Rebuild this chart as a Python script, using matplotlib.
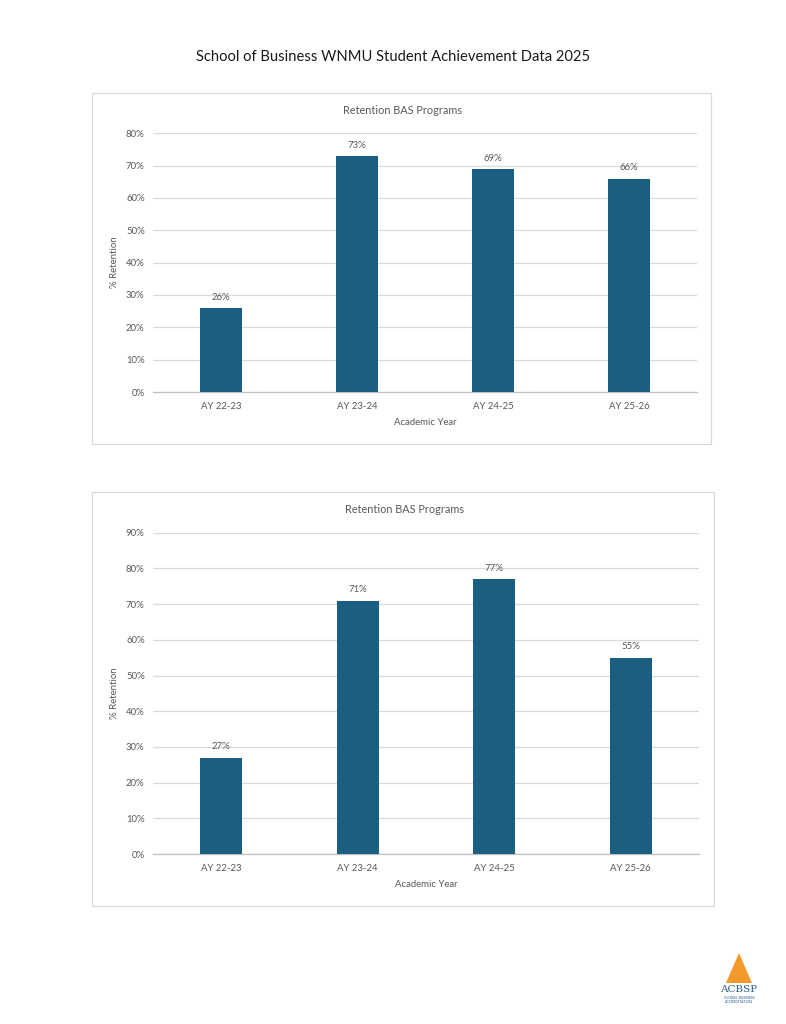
import matplotlib
matplotlib.use("Agg")
import matplotlib.pyplot as plt
from matplotlib.patches import Rectangle, Polygon
from matplotlib.ticker import PercentFormatter

plt.rcParams['font.family'] = ['Lato', 'DejaVu Sans']

categories = ["AY 22-23", "AY 23-24", "AY 24-25", "AY 25-26"]
retention_1 = [0.26, 0.73, 0.69, 0.66]
retention_2 = [0.27, 0.71, 0.77, 0.55]
ylim_1 = 0.8
ylim_2 = 0.9
chart_title = "Retention BAS Programs"
page_title = "School of Business WNMU Student Achievement Data 2025"

W, H = 786, 1024
fig = plt.figure(figsize=(W / 100, H / 100), dpi=100)

BAR = "#1a5f80"
GRID = "#d9d9d9"
TXT = "#595959"
FS = 6.9


def fx(px):
    return px / W


def fy(py):
    return 1 - py / H


fig.text(fx(393), fy(57), page_title, ha="center", va="center", fontsize=10.6, color="#1a1a1a")


def chart(frame, plot, values, ymax):
    x0, y0, x1, y1 = frame
    fig.patches.append(Rectangle((fx(x0), fy(y1)), fx(x1 - x0), (y1 - y0) / H,
                                 transform=fig.transFigure, fill=False,
                                 edgecolor=GRID, linewidth=0.9))
    px0, ptop, px1, pbot = plot
    ax = fig.add_axes([fx(px0), fy(pbot), fx(px1 - px0), (pbot - ptop) / H])
    xs = range(len(categories))
    bars = ax.bar(xs, values, width=0.31, color=BAR, zorder=3)
    ax.set_xlim(-0.5, len(categories) - 0.5)
    ax.set_ylim(0, ymax)
    ax.set_yticks([i / 10 for i in range(int(round(ymax * 10)) + 1)])
    ax.yaxis.set_major_formatter(PercentFormatter(1.0, decimals=0))
    ax.set_xticks(list(xs))
    ax.set_xticklabels(categories)
    ax.grid(axis="y", color=GRID, linewidth=0.9, zorder=0)
    for s in ["top", "right", "left"]:
        ax.spines[s].set_visible(False)
    ax.spines["bottom"].set_color("#bfbfbf")
    ax.spines["bottom"].set_linewidth(0.9)
    ax.tick_params(axis="both", length=0, labelsize=FS, labelcolor=TXT)
    ax.tick_params(axis="y", pad=6)
    ax.tick_params(axis="x", pad=7.5)
    for b, v in zip(bars, values):
        ax.annotate(f"{round(v * 100)}%", (b.get_x() + b.get_width() / 2, v),
                    xytext=(0, 4.5), textcoords="offset points", ha="center",
                    va="bottom", fontsize=FS, color=TXT)
    ax.set_xlabel("Academic Year", fontsize=FS, color=TXT, labelpad=5)
    ax.set_ylabel("% Retention", fontsize=FS, color=TXT, labelpad=5)
    fig.text(fx((x0 + x1) / 2 + 1), fy(y0 + 17.5), chart_title, ha="center", va="center",
             fontsize=7.8, color=TXT)
    ax.set_facecolor("none")
    return ax


chart((92, 93, 711, 444), (153, 133.3, 697, 392), retention_1, ylim_1)
chart((92, 492, 714, 906), (153, 532.7, 699, 854), retention_2, ylim_2)

# ACBSP logo approximation
lx, ly = 739, 975
fig.patches.append(Polygon([(fx(lx - 13), fy(ly + 8)), (fx(lx), fy(ly - 22)), (fx(lx + 13), fy(ly + 8))],
                           closed=True, transform=fig.transFigure, facecolor="#f39a2c",
                           edgecolor="none"))
fig.text(fx(lx), fy(ly + 15), "ACBSP", ha="center", va="center", fontsize=7.5,
         color="#2a5a8a", family="DejaVu Serif")
fig.text(fx(lx), fy(ly + 23), "GLOBAL BUSINESS", ha="center", va="center", fontsize=2.5,
         color="#2a5a8a")
fig.text(fx(lx), fy(ly + 27), "ACCREDITATION", ha="center", va="center", fontsize=2.5,
         color="#2a5a8a")

fig.savefig("out.png", dpi=100, facecolor="white")
